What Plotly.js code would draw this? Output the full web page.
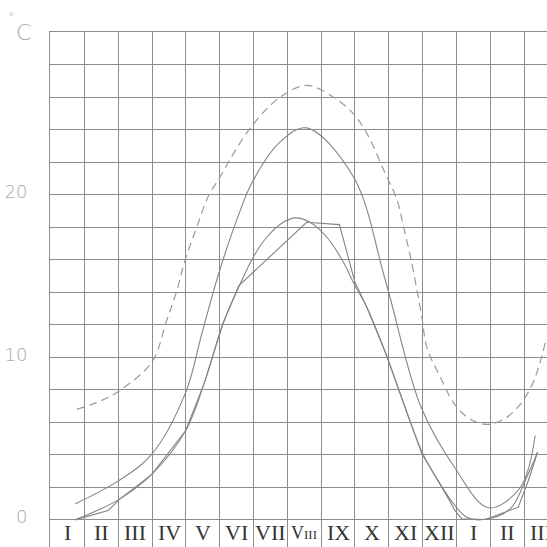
<!DOCTYPE html>
<html>
<head>
<meta charset="utf-8">
<script src="https://cdn.plot.ly/plotly-3.0.1.min.js"></script>
<style>html,body{margin:0;padding:0;background:#fff;}#chart{width:547px;height:547px;}</style>
</head>
<body>
<div id="chart"></div>
<script>
// Month labels (columns); VIII drawn with smaller letters as in the original
const monthLabels = ["I","II","III","IV","V","VI","VII",
  "<span style='font-size:18px'>V</span><span style='font-size:13px'>III</span>",
  "IX","X","XI","XII","I","II","III"];

// y tick labels
const yTickVals = [0,2,4,6,8,10,12,14,16,18,20,22,24,26,28,30];
const yTickText = ["0","","","","","10","","","","","20","","","","",""];

// Dashed curve (x in month-column units, y in °C)
const dashedX = [0.77,1.46,2.0,2.99,3.43,3.73,3.97,4.32,4.66,5.01,5.40,5.96,6.78,7.58,8.37,8.96,9.36,9.9,10.25,10.44,10.64,10.96,11.13,11.53,11.95,12.41,12.91,13.4,13.89,14.29,14.63];
const dashedY = [6.81,7.3,7.9,9.7,12.26,14.1,15.95,18.0,19.9,21.1,22.52,24.26,26.0,26.73,26.0,24.98,23.75,21.29,19.65,18.0,16.2,12.7,10.6,8.76,7.11,6.19,5.88,6.19,7.11,8.55,10.91];

// Upper solid curve
const upperX = [0.72,2.0,2.99,3.99,4.47,4.99,5.6,5.96,6.78,7.57,8.96,9.9,10.96,11.95,12.95,13.89,14.33];
const upperY = [0.98,2.4,4.04,7.83,11.45,15.3,19.0,20.78,23.24,24.12,21.08,14.73,6.91,3.22,0.74,1.99,5.19];

// Smooth lower solid curve
const smoothX = [0.72,2.0,2.99,3.99,4.54,5.1,5.58,5.99,6.39,6.88,7.23,7.67,8.17,8.66,8.95,9.35,9.9,10.98,11.52,11.96,12.31,12.8,13.59,14.08,14.40];
const smoothY = [0,1.23,2.8,5.48,8.4,12.1,14.4,16.16,17.39,18.31,18.58,18.31,17.39,15.85,14.62,13.08,10.3,4.2,2.2,0.88,0.16,0.02,0.68,2.62,4.16];

// Broken-line solid curve
const polyX = [0.72,1.70,2.05,2.99,3.99,4.54,5.1,5.56,7.57,8.54,9.0,9.35,9.9,10.98,11.52,11.96,12.16,12.85,13.83,14.13,14.40];
const polyY = [0,0.57,1.29,2.8,5.48,8.4,12.1,14.4,18.31,18.17,14.62,13.08,10.3,4.06,2.2,0.57,0.06,0.02,0.78,2.42,4.16];

const curveColor = "#858585";
const gridColor = "#8c8c8c";
const traces = [
  {x: dashedX, y: dashedY, mode: "lines", line: {color: "#9a9a9a", width: 1.2, dash: "8px,5px", shape: "spline", smoothing: 1}, hoverinfo: "skip"},
  {x: upperX, y: upperY, mode: "lines", line: {color: curveColor, width: 1.1, shape: "spline", smoothing: 1}, hoverinfo: "skip"},
  {x: smoothX, y: smoothY, mode: "lines", line: {color: curveColor, width: 1.1, shape: "spline", smoothing: 1}, hoverinfo: "skip"},
  {x: polyX, y: polyY, mode: "lines", line: {color: curveColor, width: 1.1, shape: "linear"}, hoverinfo: "skip"}
];

const annotations = monthLabels.map((t, i) => ({
  x: i + 0.5, y: -0.78, xref: "x", yref: "y", text: t, showarrow: false,
  xanchor: "center", yanchor: "middle",
  font: {family: "Liberation Serif, Times New Roman, serif", size: 22, color: "#333333"}
}));
annotations.push({xref: "paper", yref: "paper", x: -0.054, y: 1.0, text: "C", showarrow: false,
  xanchor: "center", yanchor: "middle", font: {family: "DejaVu Sans", size: 22, weight: 200, color: "#a8a8a8"}});
annotations.push({xref: "paper", yref: "paper", x: -0.077, y: 1.031, text: "°", showarrow: false,
  xanchor: "center", yanchor: "middle", font: {family: "DejaVu Sans", size: 13, weight: 200, color: "#a8a8a8"}});

const layout = {
  width: 547, height: 547,
  margin: {l: 50, r: 0, t: 32, b: 0, pad: 0},
  paper_bgcolor: "#ffffff", plot_bgcolor: "#ffffff",
  showlegend: false,
  xaxis: {range: [-0.02, 14.68], tickmode: "array", tickvals: [0,1,2,3,4,5,6,7,8,9,10,11,12,13,14],
    side: "top", showline: true, linecolor: gridColor, linewidth: 1,
    showticklabels: false, ticks: "", showgrid: true, gridcolor: gridColor, gridwidth: 1, zeroline: false, fixedrange: true},
  yaxis: {range: [-1.67, 30.02], tickmode: "array", tickvals: yTickVals, ticktext: yTickText,
    showgrid: true, gridcolor: gridColor, gridwidth: 1, zeroline: false,
    showline: true, linecolor: gridColor, linewidth: 1, ticks: "",
    ticklabelstandoff: 18, ticklabelshift: -3,
    tickfont: {family: "DejaVu Sans", size: 18, weight: 200, color: "#a8a8a8"}, fixedrange: true},
  annotations: annotations
};

Plotly.newPlot("chart", traces, layout, {staticPlot: true, displayModeBar: false});
</script>
</body>
</html>
